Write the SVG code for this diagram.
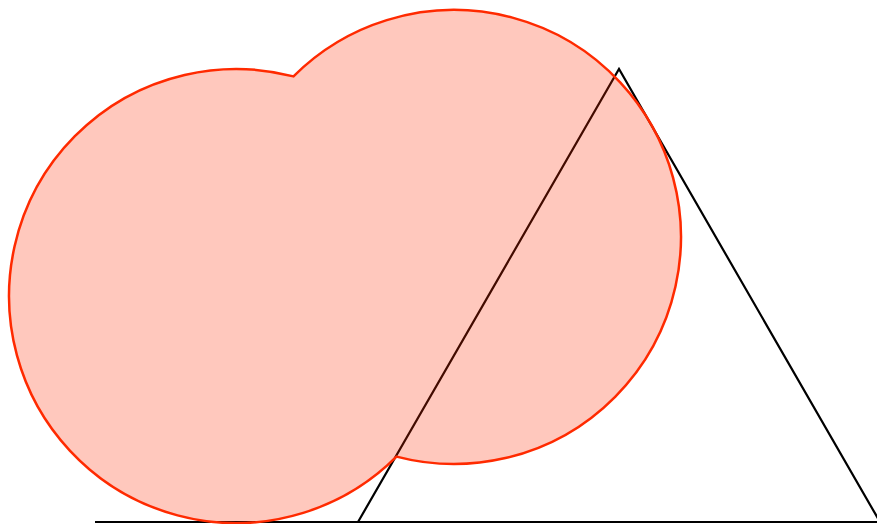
<svg xmlns="http://www.w3.org/2000/svg" width="877" height="524" viewBox="0 0 877 524">
<style>
.ln{fill:none;stroke:#000;stroke-width:2.2;stroke-linejoin:miter}
.blob{fill:#ff2a00;fill-opacity:0.26;stroke:#ff2a00;stroke-width:2.5;stroke-linejoin:miter}
</style>
<rect width="877" height="524" fill="#fff"/>
<g id="connectors">
<line class="ln" x1="95" y1="522" x2="880" y2="522"/>
<polyline class="ln" points="358,522 619,69 880,522"/>
</g>
<g id="union">
<path class="blob" d="M293.5 76.4 A227 227 0 1 0 396.5 456.6 A227 227 0 1 0 293.5 76.4 Z"/>
</g>
</svg>
